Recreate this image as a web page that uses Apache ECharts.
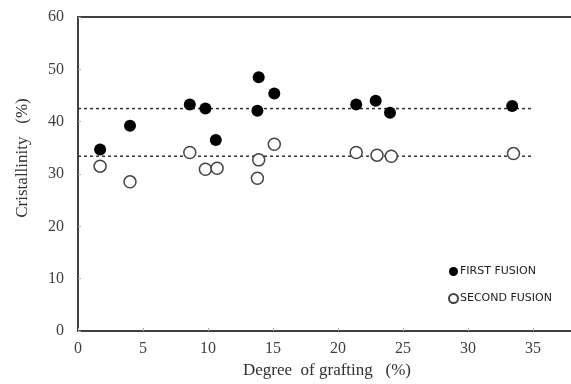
<!DOCTYPE html>
<html>
<head>
<meta charset="utf-8">
<script src="https://cdn.jsdelivr.net/npm/echarts@6/dist/echarts.min.js"></script>
<style>html,body{margin:0;padding:0;background:#fff}#c{width:571px;height:384px}</style>
</head>
<body>
<div id="c"></div>
<script>
// Degree of grafting (%) and crystallinity (%) for first fusion
var firstX = [1.7, 4.0, 8.6, 9.8, 10.6, 13.8, 13.9, 15.1, 21.4, 22.9, 24.0, 33.4];
var firstY = [34.7, 39.2, 43.3, 42.5, 36.5, 42.1, 48.5, 45.4, 43.3, 44.0, 41.7, 43.0];
// Second fusion
var secondX = [1.7, 4.0, 8.6, 9.8, 10.7, 13.8, 13.9, 15.1, 21.4, 23.0, 24.1, 33.5];
var secondY = [31.5, 28.5, 34.1, 30.9, 31.1, 29.2, 32.7, 35.7, 34.1, 33.6, 33.4, 33.9];
// Mean lines (dashed)
var meanFirst = 42.5;
var meanSecond = 33.4;
var meanLineX = [0, 35];
var seriesNames = ['FIRST FUSION', 'SECOND FUSION'];

function zip(xs, ys) { return xs.map(function (x, i) { return [x, ys[i]]; }); }
function hline(v) { return meanLineX.map(function (x) { return [x, v]; }); }

var chart = echarts.init(document.getElementById('c'));
var axisText = { color: '#404040', fontFamily: 'Liberation Serif', fontSize: 16 };
chart.setOption({
  animation: false,
  grid: { left: 78, top: 17, width: 520, height: 314, outerBoundsMode: 'none', containLabel: false,
          show: true, borderColor: '#404040', borderWidth: 2, backgroundColor: 'transparent' },
  xAxis: {
    type: 'value', min: 0, max: 40, interval: 5,
    name: 'Degree  of grafting   (%)', nameLocation: 'middle', nameGap: 30,
    nameTextStyle: { color: '#303030', fontFamily: 'Liberation Serif', fontSize: 17, padding: [0, 22, 0, 0] },
    axisLine: { show: true, lineStyle: { color: '#404040', width: 2 } },
    axisTick: { show: true, inside: true, length: 3, lineStyle: { color: '#aaa' } },
    axisLabel: Object.assign({ margin: 10 }, axisText),
    splitLine: { show: false }
  },
  yAxis: {
    type: 'value', min: 0, max: 60, interval: 10,
    name: 'Cristallinity   (%)', nameLocation: 'middle', nameGap: 47,
    nameTextStyle: { color: '#303030', fontFamily: 'Liberation Serif', fontSize: 17, padding: [0, 0, 0, 32] },
    axisLine: { show: true, lineStyle: { color: '#404040', width: 2 } },
    axisTick: { show: true, inside: true, length: 3, lineStyle: { color: '#aaa' } },
    axisLabel: Object.assign({ margin: 14 }, axisText),
    splitLine: { show: false }
  },
  legend: {
    data: seriesNames, orient: 'vertical', left: 443, top: 261, itemGap: 16,
    itemWidth: 9, itemHeight: 9, icon: 'circle',
    textStyle: { fontFamily: 'DejaVu Sans', fontSize: 11, color: '#222', padding: [0, 0, 0, -3] }
  },
  series: [
    {
      name: 'mean1', type: 'line', data: hline(meanFirst), symbol: 'none', silent: true,
      lineStyle: { color: '#333', width: 1.5, type: [3, 3] }, z: 1
    },
    {
      name: 'mean2', type: 'line', data: hline(meanSecond), symbol: 'none', silent: true,
      lineStyle: { color: '#333', width: 1.5, type: [3, 3] }, z: 1
    },
    {
      name: seriesNames[0], type: 'scatter', data: zip(firstX, firstY), symbol: 'circle', symbolSize: 12,
      itemStyle: { color: '#000', opacity: 1 }, z: 3
    },
    {
      name: seriesNames[1], type: 'scatter', data: zip(secondX, secondY), symbol: 'circle', symbolSize: 12,
      itemStyle: { color: '#fff', borderColor: '#444', borderWidth: 1.5, opacity: 1 }, z: 3
    }
  ]
});
</script>
</body>
</html>
